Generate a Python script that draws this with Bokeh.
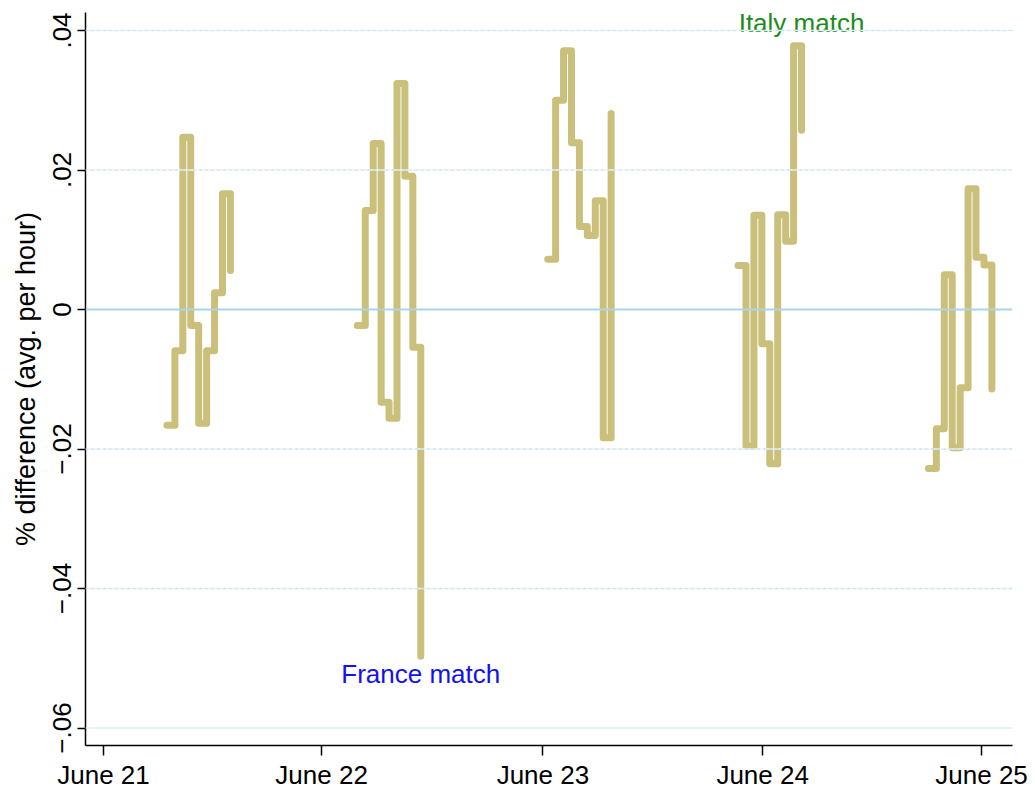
import math
from bokeh.plotting import figure
from bokeh.models import Range1d, FixedTicker, Span
from bokeh.core.properties import value
from bokeh.embed import file_html
from bokeh.resources import INLINE

# ---- data ----
day_labels = ["June 21", "June 22", "June 23", "June 24", "June 25"]
day_tick_hours = [0.0, 27.5, 55.4, 83.1, 110.7]      # where the reference places the day ticks
day_first_hour = [8, 32, 56, 80, 104]                 # first hourly observation of each day
hour_offsets = [0, 1, 2, 3, 4, 5, 6, 7, 8]

june21 = [-0.0166, -0.0059, 0.0247, -0.0023, -0.0163, -0.0059, 0.0024, 0.0166, 0.0056]
june22 = [-0.0023, 0.0142, 0.0238, -0.0133, -0.0156, 0.0324, 0.0191, -0.0054, -0.0497]
june23 = [0.0072, 0.0300, 0.0371, 0.0239, 0.0119, 0.0106, 0.0156, -0.0184, 0.0281]
june24 = [0.0063, -0.0196, 0.0135, -0.0049, -0.0221, 0.0136, 0.0098, 0.0378, 0.0257]
june25 = [-0.0228, -0.0171, 0.0050, -0.0198, -0.0112, 0.0173, 0.0075, 0.0064, -0.0114]
series = [june21, june22, june23, june24, june25]

y_ticks = [-0.06, -0.04, -0.02, 0.0, 0.02, 0.04]
y_tick_labels = ["\u2212.06", "\u2212.04", "\u2212.02", "0", ".02", ".04"]

annot_text = ["Italy match", "France match"]
annot_x = [88, 40]
annot_y = [0.0411, -0.0522]
annot_color = ["#1a8c1a", "#1212ee"]

FONT = "Liberation Sans"

p = figure(width=1035, height=793, output_backend="svg", toolbar_location=None,
           x_range=Range1d(-2.27, 114.6), y_range=Range1d(-0.0625, 0.04258),
           min_border_left=85, min_border_right=23, min_border_top=12, min_border_bottom=48)
p.outline_line_color = None
p.background_fill_color = "white"
p.border_fill_color = "white"
p.xgrid.grid_line_color = None
p.ygrid.grid_line_color = None

# gridlines
for t in y_ticks:
    if t == 0:
        p.add_layout(Span(location=t, dimension="width", line_color="#a9d6e5", line_width=2))
    elif t == y_ticks[0]:
        p.add_layout(Span(location=t, dimension="width", line_color="#e2eef2", line_width=1.5))
    else:
        p.add_layout(Span(location=t, dimension="width", line_color="#e8f3f7", line_width=1.5))
        p.add_layout(Span(location=t, dimension="width", line_color="#bcdce8",
                          line_width=1.2, line_dash="2 4"))

# step lines
for start, vals in zip(day_first_hour, series):
    xs = [start + h for h in hour_offsets]
    p.step(xs, vals, mode="after", line_color="#cac07c", line_width=7,
           line_cap="round", line_join="round")

# annotations
for t, x, y, c in zip(annot_text, annot_x, annot_y, annot_color):
    p.text(x=[x], y=[y], text=[t], text_color=c, text_font=value(FONT),
           text_font_size="26px", text_align="center", text_baseline="alphabetic")

# axes
xa = p.xaxis[0]
xa.ticker = FixedTicker(ticks=day_tick_hours)
xa.major_label_overrides = {t: l for t, l in zip(day_tick_hours, day_labels)}
xa.minor_tick_line_color = None
xa.major_tick_out = 10
xa.major_tick_in = 0
xa.major_label_standoff = 4
xa.major_label_text_font = FONT
xa.major_label_text_font_size = "26px"
xa.major_label_text_color = "black"
xa.axis_line_color = "black"
xa.axis_line_width = 1.5
xa.major_tick_line_width = 1.5

ya = p.yaxis[0]
ya.ticker = FixedTicker(ticks=y_ticks)
ya.major_label_overrides = {t: l for t, l in zip(y_ticks, y_tick_labels)}
ya.major_label_orientation = "parallel"
ya.minor_tick_line_color = None
ya.major_tick_out = 8
ya.major_tick_in = 0
ya.major_label_standoff = 6
ya.major_label_text_font = FONT
ya.major_label_text_font_size = "26px"
ya.major_label_text_color = "black"
ya.axis_line_color = "black"
ya.axis_line_width = 1.5
ya.major_tick_line_width = 1.5
ya.axis_label = "% difference (avg. per hour)"
ya.axis_label_text_font = FONT
ya.axis_label_text_font_size = "27px"
ya.axis_label_text_font_style = "normal"
ya.axis_label_text_color = "black"
ya.axis_label_standoff = 10

open("out.html", "w").write(file_html(p, INLINE))
